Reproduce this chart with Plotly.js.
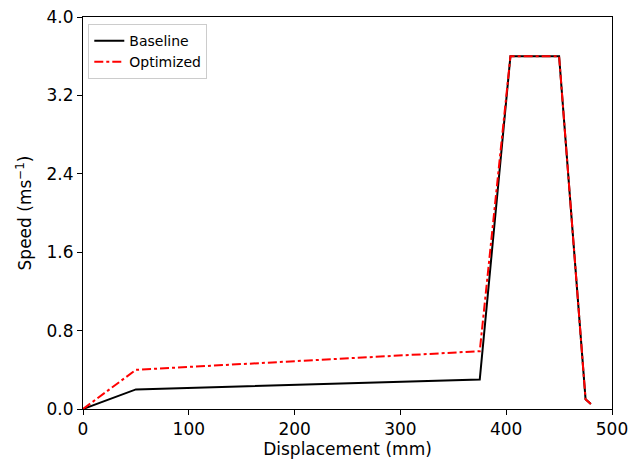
<!DOCTYPE html>
<html>
<head>
<meta charset="utf-8">
<script src="https://cdn.plot.ly/plotly-3.0.1.min.js"></script>
<style>html,body{margin:0;padding:0;background:#fff;}#plot{width:629px;height:461px;}</style>
</head>
<body>
<div id="plot"></div>
<script>
const baselineX = [0, 50, 375, 404, 450, 475, 480];
const baselineY = [0, 0.2, 0.3, 3.6, 3.6, 0.1, 0.05];
const optimizedX = [0, 50, 375, 404, 450, 475, 480];
const optimizedY = [0, 0.4, 0.59, 3.6, 3.6, 0.1, 0.05];
const xTicks = [0, 100, 200, 300, 400, 500];
const yTicks = [0, 0.8, 1.6, 2.4, 3.2, 4.0];
const yTickLabels = ['0.0', '0.8', '1.6', '2.4', '3.2', '4.0'];

const traces = [
  {x: baselineX, y: baselineY, mode: 'lines', name: 'Baseline',
   line: {color: '#000000', width: 2}},
  {x: optimizedX, y: optimizedY, mode: 'lines', name: 'Optimized',
   line: {color: '#ff0000', width: 2, dash: 'dashdot'}}
];
const font = {family: 'DejaVu Sans', size: 17, color: '#000'};
const layout = {
  width: 629, height: 461,
  margin: {l: 83, r: 17, t: 17, b: 52},
  paper_bgcolor: '#fff', plot_bgcolor: '#fff',
  font: font,
  showlegend: true,
  legend: {x: 0.01, y: 0.982, xanchor: 'left', yanchor: 'top',
           bgcolor: 'rgba(255,255,255,0.8)', bordercolor: '#cccccc', borderwidth: 1,
           font: {family: 'DejaVu Sans', size: 14, color: '#000'}, tracegroupgap: 0},
  xaxis: {range: [0, 500], tickvals: xTicks, ticktext: xTicks.map(String),
          tickfont: font,
          showgrid: false, zeroline: false, showline: true, linecolor: '#000', linewidth: 1,
          mirror: true, ticks: 'outside', ticklen: 5, tickcolor: '#000',
          title: {text: 'Displacement (mm)', font: font, standoff: 4}},
  yaxis: {range: [0, 4.0], tickvals: yTicks, ticktext: yTickLabels,
          tickfont: font,
          showgrid: false, zeroline: false, showline: true, linecolor: '#000', linewidth: 1,
          mirror: true, ticks: 'outside', ticklen: 5, tickcolor: '#000',
          title: {text: 'Speed (ms<sup>\u22121</sup>)', font: font, standoff: 10}}
};
Plotly.newPlot('plot', traces, layout, {displayModeBar: false, staticPlot: true});
</script>
</body>
</html>
